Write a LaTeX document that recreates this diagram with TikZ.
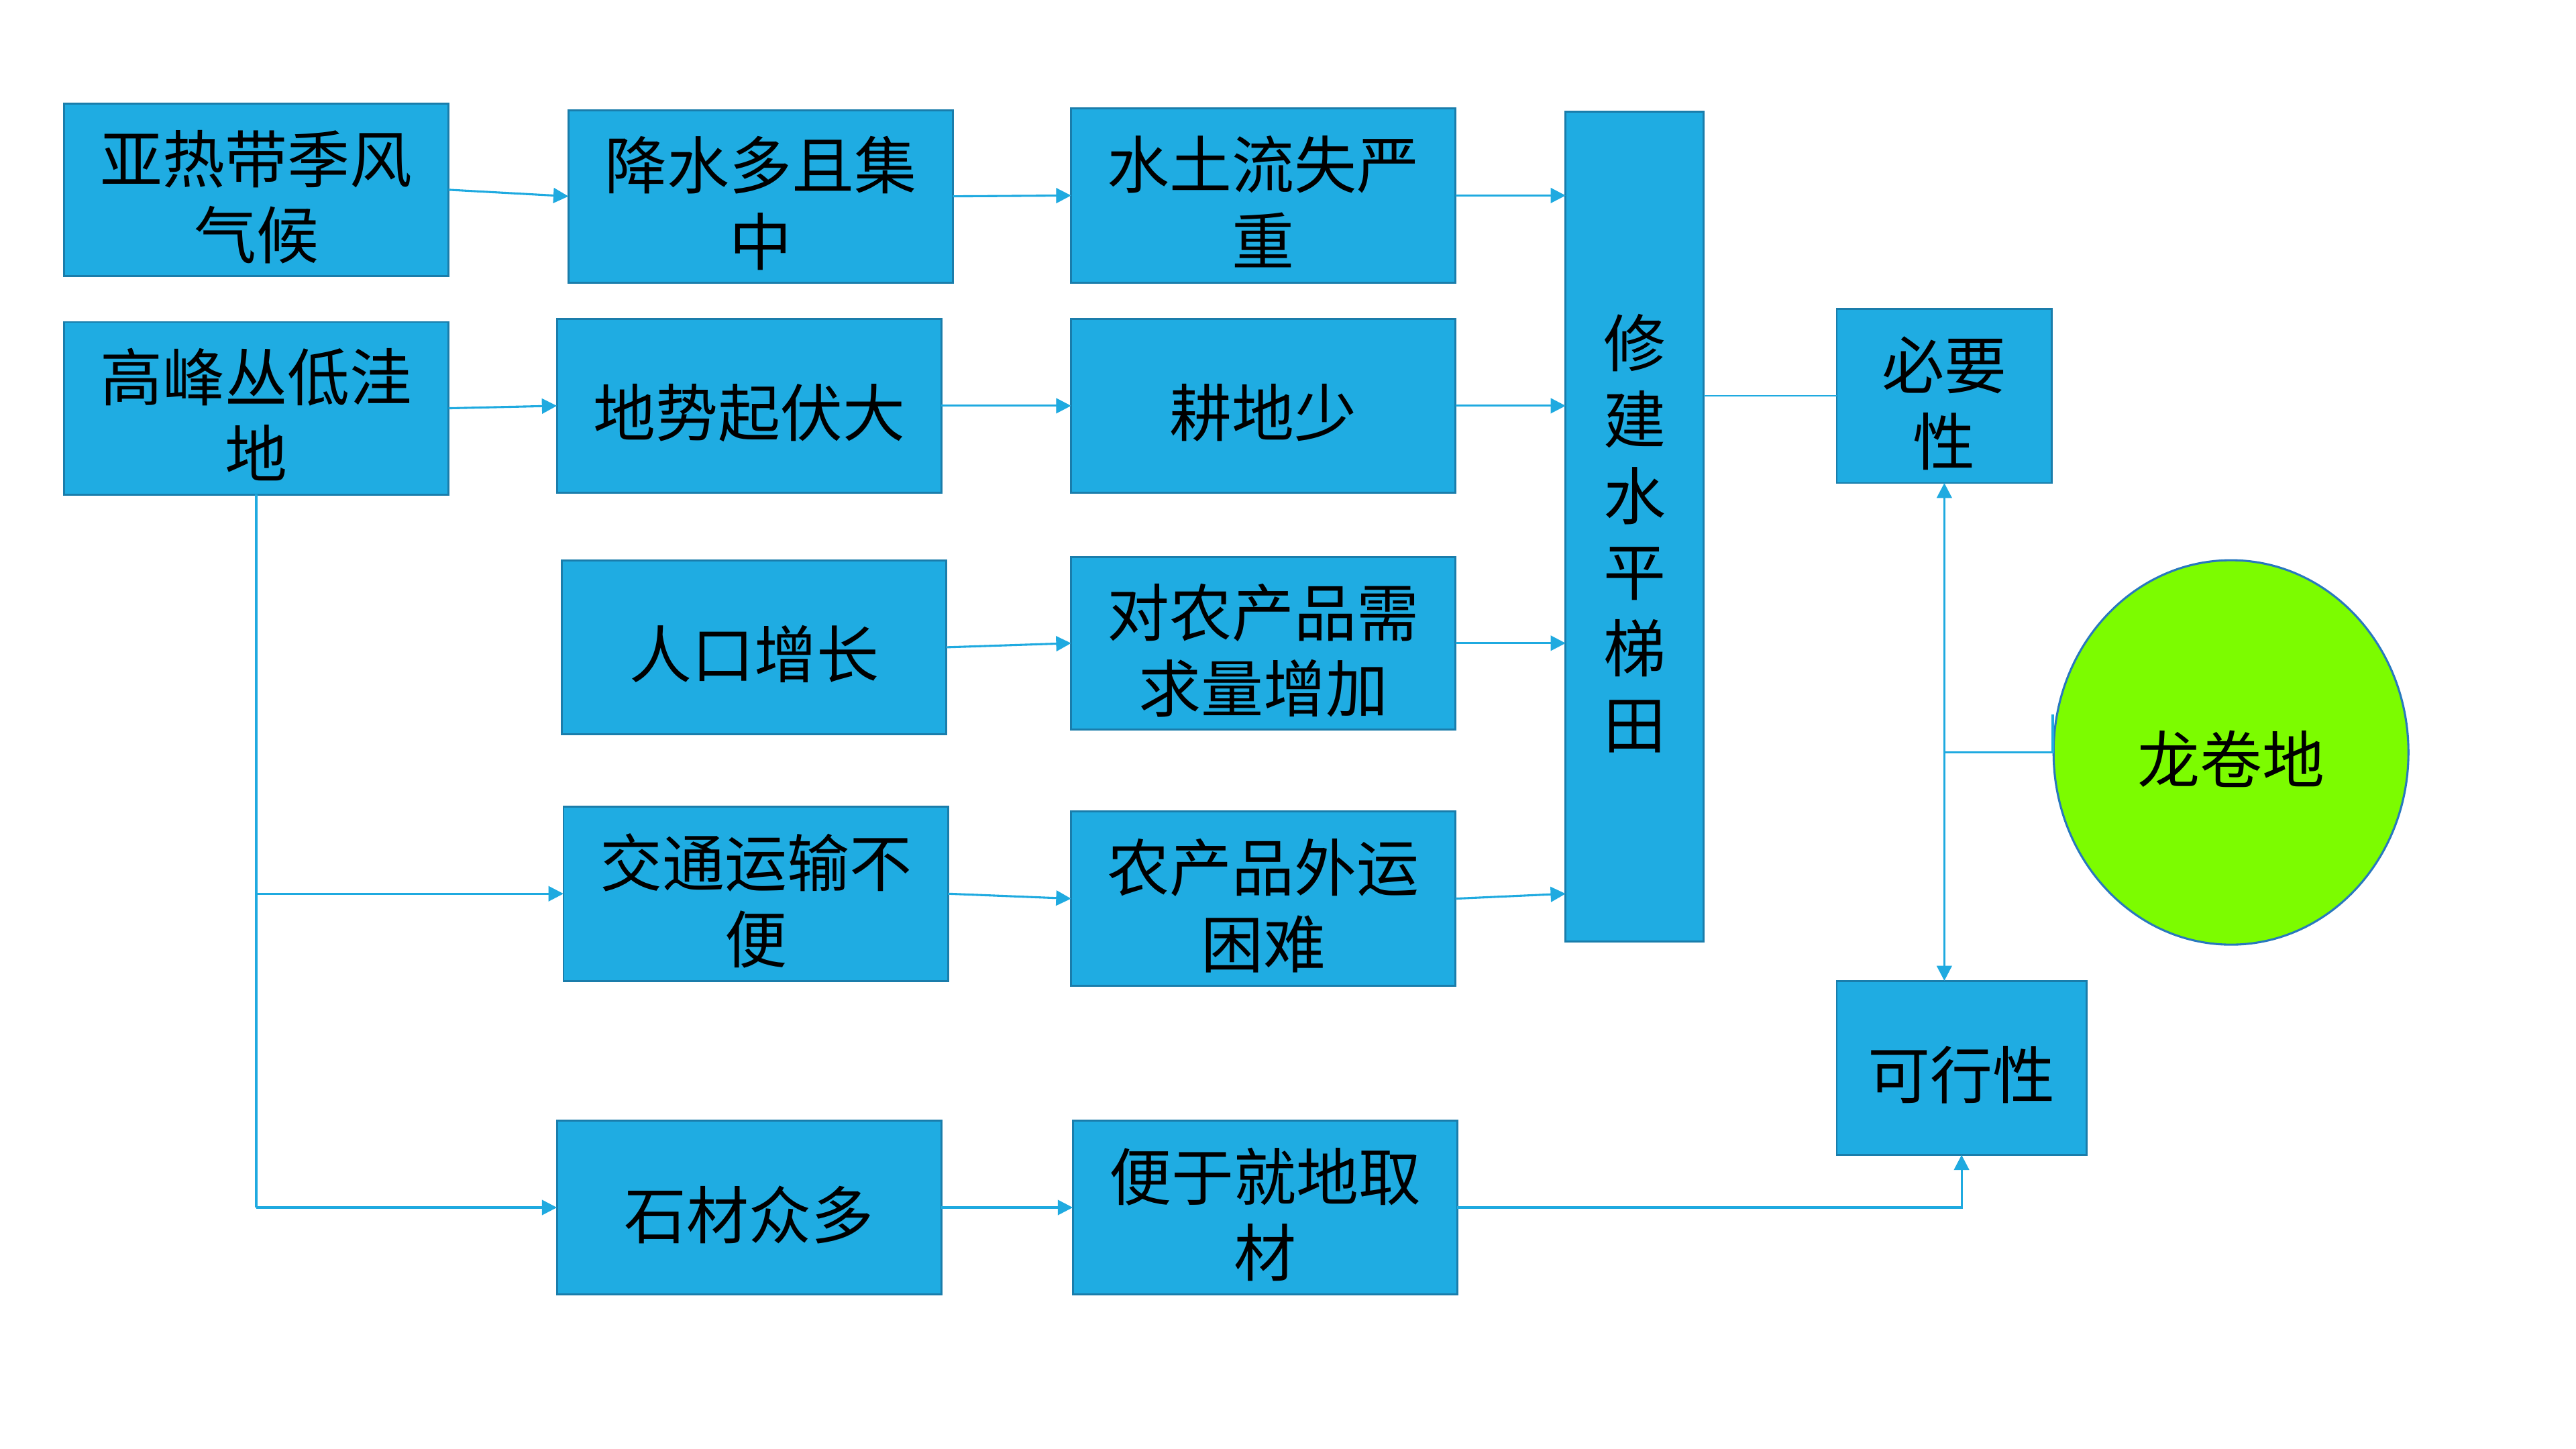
\documentclass[tikz,border=0pt]{standalone}
\usepackage{fontspec}
\newfontfamily\cjk{Noto Sans CJK SC}
\usetikzlibrary{arrows.meta,shapes.geometric}
\definecolor{boxfill}{RGB}{31,172,226}
\definecolor{boxedge}{RGB}{26,125,171}
\definecolor{linkblue}{RGB}{31,170,224}
\definecolor{limefill}{RGB}{124,252,0}
\definecolor{ringblue}{RGB}{40,120,190}
\tikzset{
  blk/.style={draw=boxedge, line width=0.85pt, fill=boxfill, rectangle, inner sep=0pt, outer sep=0pt,
    text=black, font=\cjk\fontsize{27}{33}\selectfont},
  con/.style={draw=linkblue, line width=0.9pt},
  thin con/.style={draw=linkblue, line width=0.6pt},
  arr/.style={con, -{Triangle[length=6.5pt,width=6.5pt]}},
}
% centred lines of text, set a little below the middle
\newcommand\lines[1]{\raisebox{-13pt}[0pt][0pt]{\begin{tabular}{@{}c@{}}#1\end{tabular}}}
% box given by its corners (x1,y1) (x2,y2) in picture units
\newcommand\boxnode[6]{%
  \node[blk, minimum width={(#4-#2)*0.025cm}, minimum height={(#5-#3)*0.025cm}]
    (#1) at ({(#2+#4)/2},{(#3+#5)/2}) {\lines{#6}};}
\begin{document}
\begin{tikzpicture}[x=0.025cm,y=-0.025cm]
\useasboundingbox[fill=white] (0,0) rectangle (1568,882);

% first column: causes
\boxnode{A1}{39}{63}{273}{168}{亚热带季风\\气候}
\boxnode{A2}{39}{196}{273}{301}{高峰丛低洼\\地}
% second column
\boxnode{B1}{346}{67}{580}{172}{降水多且集\\中}
\boxnode{B2}{339}{194}{573}{300}{地势起伏大}
\boxnode{B3}{342}{341}{576}{447}{人口增长}
\boxnode{B4}{343}{491}{577}{597}{交通运输不\\便}
\boxnode{B5}{339}{682}{573}{788}{石材众多}
% third column
\boxnode{C1}{652}{66}{886}{172}{水土流失严\\重}
\boxnode{C2}{652}{194}{886}{300}{耕地少}
\boxnode{C3}{652}{339}{886}{444}{对农产品需\\求量增加}
\boxnode{C4}{652}{494}{886}{600}{农产品外运\\困难}
\boxnode{C5}{653}{682}{887}{788}{便于就地取\\材}
% terraces
\boxnode{D}{953}{68}{1037}{573}{修\\建\\水\\平\\梯\\田}
% conclusions
\boxnode{E1}{1118}{188}{1249}{294}{必要\\性}
\boxnode{E2}{1118}{597}{1270}{703}{可行性}
% place
\node[ellipse, draw=ringblue, line width=0.9pt, fill=limefill, inner sep=0pt,
  minimum width={216*0.025cm}, minimum height={234*0.025cm},
  font=\cjk\fontsize{27}{33}\selectfont] (L) at (1358,458) {\lines{龙卷地}};

% causal links
\draw[arr] (A1.east) -- (B1.west);
\draw[arr] (B1.east) -- (C1.west);
\draw[arr] (C1.east) -- (C1.east -| D.west);
\draw[arr] (A2.east) -- (B2.west);
\draw[arr] (B2.east) -- (C2.west);
\draw[arr] (C2.east) -- (C2.east -| D.west);
\draw[arr] (B3.east) -- (C3.west);
\draw[arr] (C3.east) -- (C3.east -| D.west);
\draw[arr] (B4.east) -- (C4.west);
\draw[arr] (C4.east) -- (D.west |- B4.east);
\draw[con] (A2.south) -- (A2.south |- B5.west);
\draw[arr] (A2.south |- B4.west) -- (B4.west);
\draw[arr] (A2.south |- B5.west) -- (B5.west);
\draw[arr] (B5.east) -- (C5.west);
\draw[arr] (C5.east) -| (E2.south);
\draw[thin con] (E1.west -| D.east) -- (E1.west);

% place to both conclusions
\coordinate (tick) at (1249.5,435);
\coordinate (knot) at (E1.south |- L.west);
\draw[con] (tick) -- (tick |- L.west) -- (knot);
\draw[arr] (knot) -- (E1.south);
\draw[arr] (knot) -- (knot |- E2.north);
\end{tikzpicture}
\end{document}
